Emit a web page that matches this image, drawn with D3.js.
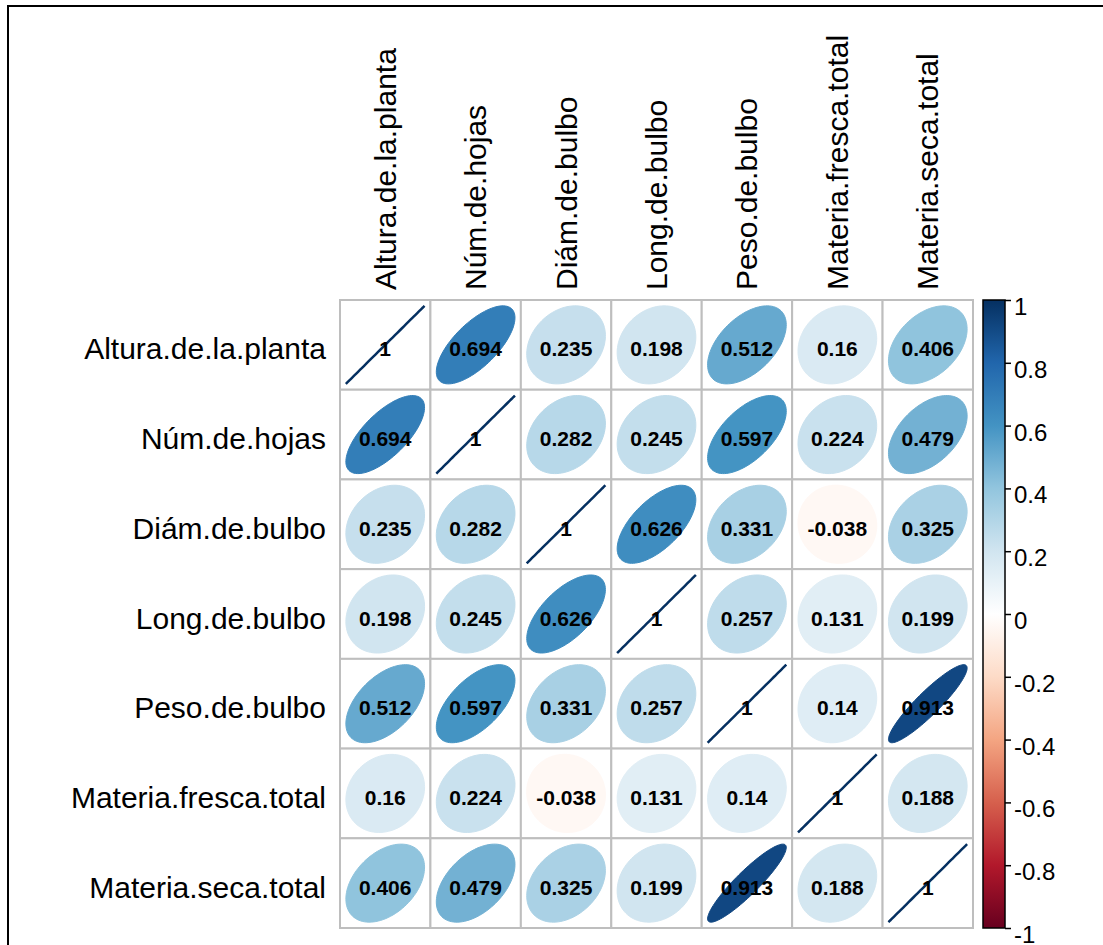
<!DOCTYPE html>
<html>
<head>
<meta charset="utf-8">
<script src="https://cdn.jsdelivr.net/npm/d3@7"></script>
<style>
  body { margin: 0; background: #fff; }
  text { font-family: "Liberation Sans", Arial, sans-serif; }
</style>
</head>
<body>
<div id="wrapper"></div>
<script>
// variables and correlation matrix
const variables = [
  "Altura.de.la.planta",
  "Núm.de.hojas",
  "Diám.de.bulbo",
  "Long.de.bulbo",
  "Peso.de.bulbo",
  "Materia.fresca.total",
  "Materia.seca.total",
]

const corrRows = [
  [1, 0.694, 0.235, 0.198, 0.512, 0.16, 0.406],
  [0.694, 1, 0.282, 0.245, 0.597, 0.224, 0.479],
  [0.235, 0.282, 1, 0.626, 0.331, -0.038, 0.325],
  [0.198, 0.245, 0.626, 1, 0.257, 0.131, 0.199],
  [0.512, 0.597, 0.331, 0.257, 1, 0.14, 0.913],
  [0.16, 0.224, -0.038, 0.131, 0.14, 1, 0.188],
  [0.406, 0.479, 0.325, 0.199, 0.913, 0.188, 1],
]

const colorbarTicks = [1, 0.8, 0.6, 0.4, 0.2, 0, -0.2, -0.4, -0.6, -0.8, -1]

const rdBu = [
  "#67001F", "#B2182B", "#D6604D", "#F4A582", "#FDDBC7", "#FFFFFF",
  "#D1E5F0", "#92C5DE", "#4393C3", "#2166AC", "#053061",
]

// dimensions
const width = 1103
const height = 945
const grid = { left: 340, right: 973, top: 300, bottom: 928 }

const svg = d3
  .select("#wrapper")
  .append("svg")
  .attr("width", width)
  .attr("height", height)

// outer frame
svg
  .append("rect")
  .attr("x", 8)
  .attr("y", 6)
  .attr("width", 1200)
  .attr("height", 1200)
  .attr("fill", "none")
  .attr("stroke", "#000")
  .attr("stroke-width", 2)

// scales
const xScale = d3.scaleBand().domain(variables).range([grid.left, grid.right])
const yScale = d3.scaleBand().domain(variables).range([grid.top, grid.bottom])

const colorScale = d3
  .scaleLinear()
  .domain(d3.range(11).map((i) => -1 + i * 0.2))
  .range(rdBu)
  .interpolate(d3.interpolateRgb)

const cells = []
corrRows.forEach((row, i) =>
  row.forEach((r, j) => cells.push({ row: variables[i], col: variables[j], r }))
)

// grid
svg
  .append("g")
  .selectAll("rect")
  .data(cells)
  .join("rect")
  .attr("x", (d) => xScale(d.col))
  .attr("y", (d) => yScale(d.row))
  .attr("width", xScale.bandwidth())
  .attr("height", yScale.bandwidth())
  .attr("fill", "#fff")
  .attr("stroke", "#BEBEBE")
  .attr("stroke-width", 2)

// ellipses (corrplot style)
const k = d3.range(101).map((i) => (i / 100) * 2 * Math.PI)
const ellipsePath = (d) => {
  const w = xScale.bandwidth() * 0.87
  const h = yScale.bandwidth() * 0.87
  const a = Math.acos(Math.max(-1, Math.min(1, d.r))) / 2
  const cx = xScale(d.col) + xScale.bandwidth() / 2
  const cy = yScale(d.row) + yScale.bandwidth() / 2
  const pts = k.map((t) => [
    cx + (Math.cos(t + a) / 2) * w,
    cy - (Math.cos(t - a) / 2) * h,
  ])
  return d3.line()(pts) + (d.r >= 1 ? "" : "Z")
}

svg
  .append("g")
  .selectAll("path")
  .data(cells)
  .join("path")
  .attr("d", ellipsePath)
  .attr("fill", (d) => (d.r >= 1 ? "none" : colorScale(d.r)))
  .attr("stroke", (d) => colorScale(d.r))
  .attr("stroke-width", (d) => (d.r >= 1 ? 2.5 : 1))

// numbers
svg
  .append("g")
  .selectAll("text")
  .data(cells)
  .join("text")
  .attr("x", (d) => xScale(d.col) + xScale.bandwidth() / 2)
  .attr("y", (d) => yScale(d.row) + yScale.bandwidth() / 2 + 4)
  .attr("text-anchor", "middle")
  .attr("dominant-baseline", "central")
  .style("font-size", "21px")
  .style("font-weight", "bold")
  .style("fill", "#000")
  .text((d) => String(d.r))

// row labels
svg
  .append("g")
  .selectAll("text")
  .data(variables)
  .join("text")
  .attr("x", grid.left - 14)
  .attr("y", (d) => yScale(d) + yScale.bandwidth() / 2 + 4)
  .attr("text-anchor", "end")
  .attr("dominant-baseline", "central")
  .style("font-size", "30px")
  .text((d) => d)

// column labels
svg
  .append("g")
  .selectAll("text")
  .data(variables)
  .join("text")
  .attr(
    "transform",
    (d) => `translate(${xScale(d) + xScale.bandwidth() / 2}, ${grid.top - 10}) rotate(-90)`
  )
  .attr("text-anchor", "start")
  .attr("dominant-baseline", "central")
  .style("font-size", "30px")
  .text((d) => d)

// colour bar
const barX = 983
const barW = 22
const barScale = d3.scaleLinear().domain([-1, 1]).range([grid.bottom, grid.top])

const grad = svg
  .append("defs")
  .append("linearGradient")
  .attr("id", "cbar")
  .attr("x1", 0)
  .attr("y1", 1)
  .attr("x2", 0)
  .attr("y2", 0)
grad
  .selectAll("stop")
  .data(rdBu)
  .join("stop")
  .attr("offset", (d, i) => i / (rdBu.length - 1))
  .attr("stop-color", (d) => d)

svg
  .append("rect")
  .attr("x", barX)
  .attr("y", grid.top)
  .attr("width", barW)
  .attr("height", grid.bottom - grid.top)
  .attr("fill", "url(#cbar)")
  .attr("stroke", "#000")
  .attr("stroke-width", 1.5)

const barAxis = svg
  .append("g")
  .attr("transform", `translate(${barX + barW}, 0)`)
  .call(
    d3
      .axisRight(barScale)
      .tickValues(colorbarTicks)
      .tickSize(6)
      .tickPadding(3)
      .tickFormat((d) => String(d))
  )
barAxis.select(".domain").remove()
barAxis.selectAll("line").attr("stroke", "#000").attr("stroke-width", 1.5)
barAxis
  .selectAll("text")
  .attr("dy", "0.6em")
  .style("font-size", "24px")
  .style("font-family", '"Liberation Sans", Arial, sans-serif')
  .style("fill", "#000")
</script>
</body>
</html>
